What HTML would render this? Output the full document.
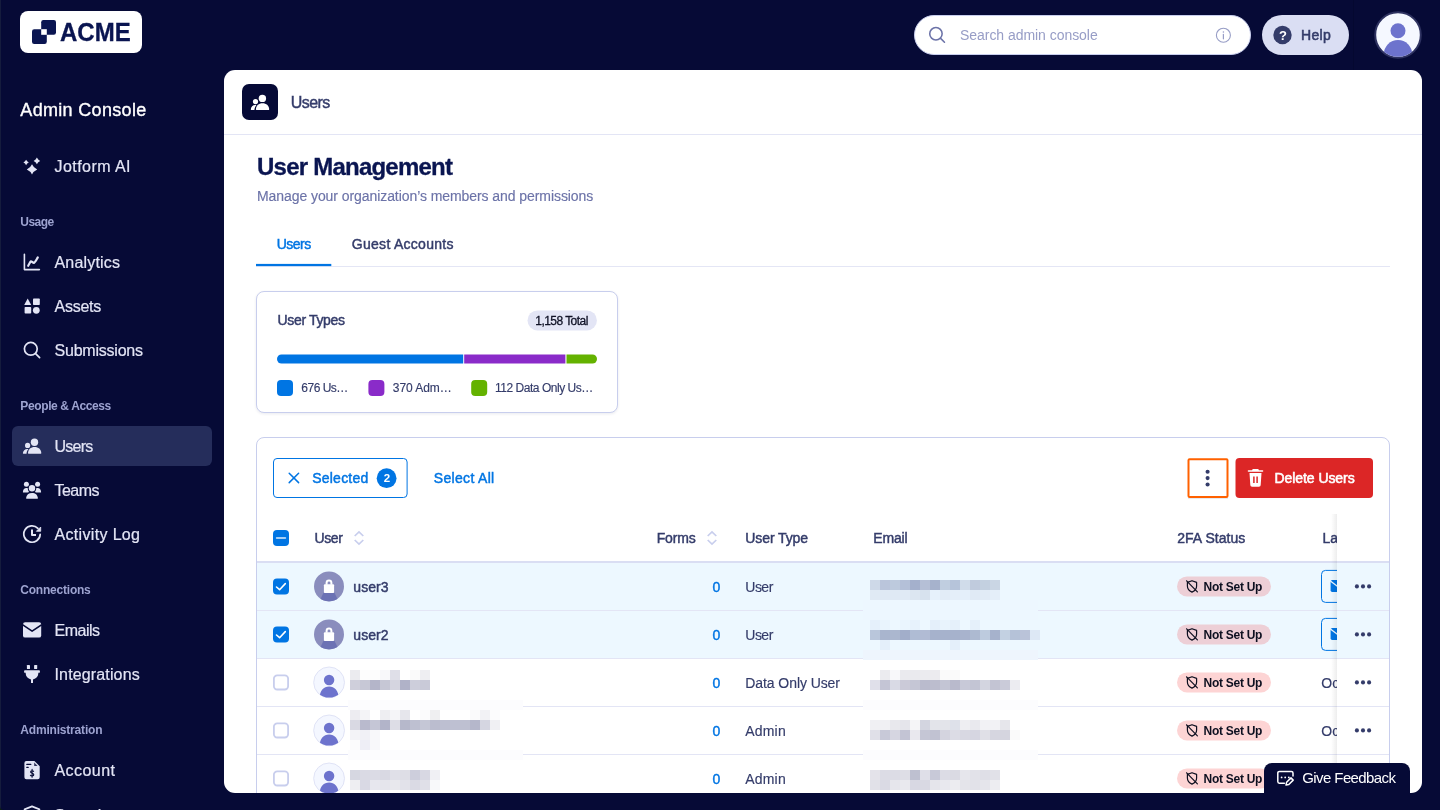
<!DOCTYPE html>
<html lang="en">
<head>
<meta charset="utf-8">
<title>Admin Console - Users</title>
<style>
*{box-sizing:border-box;margin:0;padding:0}
html,body{width:1440px;height:810px;overflow:hidden;background:#060A36}
body{font-family:"Liberation Sans",sans-serif;-webkit-font-smoothing:antialiased}
#app{position:relative;width:1440px;height:810px;overflow:hidden;background:#060A36}
#app div,#app span,#app svg,#app a,#app h1,#app h2,#app p,#app button,#app nav,#app header,#app main,#app aside,#app section,#app ul,#app li{position:absolute;display:block}
.t{white-space:nowrap;font-weight:400}
h1,h2,p{font-weight:400}
</style>
</head>
<body>
<div id="app">
<aside style="left:0;top:0;width:224px;height:810px">
<div style="left:20px;top:11px;width:122px;height:42px;background:#fff;border-radius:8px">
<svg style="left:12px;top:9px" width="24" height="24" viewBox="0 0 24 24"><rect x="9.2" y="0" width="14.8" height="14.8" rx="2.2" fill="#0A1551"/><rect x="0" y="9.2" width="14.8" height="14.8" rx="2.2" fill="#0A1551"/><rect x="9.2" y="9.2" width="5.6" height="5.6" fill="#fff"/></svg>
<span class="t" style="left:39.90px;top:10px;font-size:24px;line-height:24px;color:#0A1551;font-weight:700;letter-spacing:0.076px;-webkit-text-stroke:0.3px #0A1551;transform:scaleY(1.07);transform-origin:0 20px;">ACME</span>
</div>
<h2 class="t" style="left:20.30px;top:101px;font-size:18px;line-height:18px;color:#fff;letter-spacing:0.328px;-webkit-text-stroke:0.35px #fff;">Admin Console</h2>
<nav style="left:0;top:0;width:224px;height:810px">
<svg style="left:22px;top:156px;" width="20" height="20" viewBox="0 0 20 20"><path fill="#E3E5F5" d="M10,8.2 Q11.56,11.84 15.2,13.4 Q11.56,14.96 10,18.6 Q8.44,14.96 4.8,13.4 Q8.44,11.84 10,8.2Z M4.1,3.8 Q4.91,5.6899999999999995 6.8,6.5 Q4.91,7.3100000000000005 4.1,9.2 Q3.2899999999999996,7.3100000000000005 1.3999999999999995,6.5 Q3.2899999999999996,5.6899999999999995 4.1,3.8Z M14.9,1.6000000000000005 Q15.89,3.9100000000000006 18.2,4.9 Q15.89,5.890000000000001 14.9,8.2 Q13.91,5.890000000000001 11.600000000000001,4.9 Q13.91,3.9100000000000006 14.9,1.6000000000000005Z"/></svg>
<a class="t" style="left:54.50px;top:159px;font-size:16px;line-height:16px;color:#E3E5F5;letter-spacing:0.441px;-webkit-text-stroke:0.2px #E3E5F5;">Jotform AI</a>
<span class="t" style="left:20.30px;top:216px;font-size:12px;line-height:12px;color:#9DA3D0;font-weight:700;letter-spacing:-0.558px;">Usage</span>
<svg style="left:22px;top:252px;" width="20" height="20" viewBox="0 0 20 20"><path fill="none" stroke="#E3E5F5" stroke-width="1.6" stroke-linecap="round" stroke-linejoin="round" d="M2.4,2.2 V17.6 H17.4"/><path fill="none" stroke="#E3E5F5" stroke-width="2.2" stroke-linecap="round" stroke-linejoin="round" d="M6.2,13.8 L8.4,9.8 C9.2,8.6 10.4,10.6 12,10.8 C13,10.6 14.6,7.4 15.8,5.4"/></svg>
<a class="t" style="left:54.50px;top:255px;font-size:16px;line-height:16px;color:#E3E5F5;letter-spacing:0.184px;-webkit-text-stroke:0.2px #E3E5F5;">Analytics</a>
<svg style="left:22px;top:296px;" width="20" height="20" viewBox="0 0 20 20"><path fill="#E3E5F5" d="M5.7,2.6 L9.2,8.9 H2.2 Z"/><rect fill="#E3E5F5" x="11" y="2.4" width="6.8" height="6.6" rx="0.8"/><rect fill="#E3E5F5" x="2.6" y="11" width="6.6" height="6.6" rx="0.8"/><circle fill="#E3E5F5" cx="14.3" cy="14.3" r="3.4"/></svg>
<a class="t" style="left:54.50px;top:299px;font-size:16px;line-height:16px;color:#E3E5F5;letter-spacing:-0.263px;-webkit-text-stroke:0.2px #E3E5F5;">Assets</a>
<svg style="left:22px;top:340px;" width="20" height="20" viewBox="0 0 20 20"><circle fill="none" stroke="#E3E5F5" stroke-width="1.7" cx="8.8" cy="8.8" r="6.4"/><path fill="none" stroke="#E3E5F5" stroke-width="1.7" stroke-linecap="round" d="M13.6,13.6 L17.6,17.6"/></svg>
<a class="t" style="left:54.50px;top:343px;font-size:16px;line-height:16px;color:#E3E5F5;letter-spacing:-0.220px;-webkit-text-stroke:0.2px #E3E5F5;">Submissions</a>
<span class="t" style="left:20.30px;top:400px;font-size:12px;line-height:12px;color:#9DA3D0;font-weight:700;letter-spacing:-0.377px;">People &amp; Access</span>
<div style="left:12px;top:426px;width:200px;height:40px;border-radius:6px;background:#252D5B"></div>
<svg style="left:22px;top:436px;" width="20" height="20" viewBox="0 0 20 20"><circle fill="#E3E5F5" cx="12.5" cy="6.2" r="3.7"/><path fill="#E3E5F5" d="M6.5,17.7 Q6,17.7 6,17.1 C6.2,13.4 8.8,11.1 12.6,11.1 C16.4,11.1 19.1,13.4 19.3,17.1 Q19.3,17.7 18.8,17.7 Z"/><circle fill="#E3E5F5" cx="5.6" cy="9.4" r="2.6"/><path fill="#E3E5F5" d="M1.3,17.7 Q0.8,17.7 0.9,17.1 C1.2,14.6 2.8,12.9 5.2,12.9 C5.7,12.9 6.1,13 6.5,13.1 C5.3,14.3 4.7,15.8 4.5,17.7 Z"/></svg>
<a class="t" style="left:54.50px;top:439px;font-size:16px;line-height:16px;color:#E3E5F5;letter-spacing:-0.745px;-webkit-text-stroke:0.2px #E3E5F5;">Users</a>
<svg style="left:22px;top:480px;" width="20" height="20" viewBox="0 0 20 20"><circle fill="#E3E5F5" cx="10" cy="8.3" r="3.2"/><path fill="#E3E5F5" d="M4.6,18.7 Q4,18.7 4.1,18 C4.4,14.8 6.7,12.9 10,12.9 C13.3,12.9 15.6,14.8 15.9,18 Q16,18.7 15.4,18.7 Z"/><circle fill="#E3E5F5" cx="4.4" cy="4.2" r="2.5"/><circle fill="#E3E5F5" cx="15.6" cy="4.2" r="2.5"/><path fill="#E3E5F5" d="M1.4,12.6 Q0.8,12.6 0.9,12 C1.1,9.6 2.4,8 4.4,8 C4.9,8 5.4,8.1 5.8,8.3 C5.8,9.9 6.3,11 7.2,11.9 C6.6,12.1 6.1,12.3 5.7,12.6 Z"/><path fill="#E3E5F5" d="M18.6,12.6 Q19.2,12.6 19.1,12 C18.9,9.6 17.6,8 15.6,8 C15.1,8 14.6,8.1 14.2,8.3 C14.2,9.9 13.7,11 12.8,11.9 C13.4,12.1 13.9,12.3 14.3,12.6 Z"/></svg>
<a class="t" style="left:54.50px;top:483px;font-size:16px;line-height:16px;color:#E3E5F5;letter-spacing:-0.531px;-webkit-text-stroke:0.2px #E3E5F5;">Teams</a>
<svg style="left:22px;top:524px;" width="20" height="20" viewBox="0 0 20 20"><path fill="none" stroke="#E3E5F5" stroke-width="1.7" stroke-linecap="round" d="M18.2,10.4 A8.2,8.2 0 1 1 15.9,4.3"/><path fill="#E3E5F5" stroke="#E3E5F5" stroke-width="0.8" stroke-linejoin="round" d="M18.7,3 V7.3 H14.4 Z"/><path fill="none" stroke="#E3E5F5" stroke-width="2" stroke-linecap="butt" stroke-linejoin="round" d="M10,5.4 V11 H14"/></svg>
<a class="t" style="left:54.50px;top:527px;font-size:16px;line-height:16px;color:#E3E5F5;letter-spacing:0.335px;-webkit-text-stroke:0.2px #E3E5F5;">Activity Log</a>
<span class="t" style="left:20.30px;top:584px;font-size:12px;line-height:12px;color:#9DA3D0;font-weight:700;letter-spacing:-0.217px;">Connections</span>
<svg style="left:22px;top:620px;" width="20" height="20" viewBox="0 0 20 20"><rect fill="#E3E5F5" x="1" y="2.2" width="18.2" height="15.4" rx="2.2"/><path fill="none" stroke="#060A36" stroke-width="1.6" stroke-linejoin="round" d="M0.4,4.6 L10.1,11.2 L19.8,4.6"/></svg>
<a class="t" style="left:54.50px;top:623px;font-size:16px;line-height:16px;color:#E3E5F5;letter-spacing:-0.503px;-webkit-text-stroke:0.2px #E3E5F5;">Emails</a>
<svg style="left:22px;top:664px;" width="20" height="20" viewBox="0 0 20 20"><rect fill="#E3E5F5" x="4.9" y="0.9" width="3.1" height="4.2" rx="0.7"/><rect fill="#E3E5F5" x="12.1" y="0.9" width="3.1" height="4.2" rx="0.7"/><path fill="#E3E5F5" d="M3,6.2 H17 A0.9,0.9 0 0 1 17.9,7.1 V7.9 A0.9,0.9 0 0 1 17,8.8 H16.3 V9.6 C16.3,12.6 14.2,14.8 11,15.4 V19.1 H9 V15.4 C5.8,14.8 3.7,12.6 3.7,9.6 V8.8 H3 A0.9,0.9 0 0 1 2.1,7.9 V7.1 A0.9,0.9 0 0 1 3,6.2 Z"/></svg>
<a class="t" style="left:54.50px;top:667px;font-size:16px;line-height:16px;color:#E3E5F5;letter-spacing:0.145px;-webkit-text-stroke:0.2px #E3E5F5;">Integrations</a>
<span class="t" style="left:20.30px;top:724px;font-size:12px;line-height:12px;color:#9DA3D0;font-weight:700;letter-spacing:-0.190px;">Administration</span>
<svg style="left:22px;top:760px;" width="20" height="20" viewBox="0 0 20 20"><path fill="#E3E5F5" d="M4.4,0.9 H12.4 L17.7,6.2 V17.2 A2,2 0 0 1 15.7,19.2 H4.4 A2,2 0 0 1 2.4,17.2 V2.9 A2,2 0 0 1 4.4,0.9 Z"/><path fill="none" stroke="#060A36" stroke-width="1.2" stroke-linecap="round" d="M4.8,4.4 H8.8 M4.8,7.4 H6.2"/><path fill="#060A36" d="M12.2,2.6 L15.6,6 H12.2 Z" opacity="0.8"/><path fill="none" stroke="#060A36" stroke-width="1.1" stroke-linecap="round" d="M11.6,11.4 C11.2,10.4 8.6,10.4 8.6,12 C8.6,13.6 11.8,13 11.8,14.8 C11.8,16.4 8.8,16.4 8.4,15.2 M10.1,9.4 V17.2"/></svg>
<a class="t" style="left:54.50px;top:763px;font-size:16px;line-height:16px;color:#E3E5F5;letter-spacing:0.448px;-webkit-text-stroke:0.2px #E3E5F5;">Account</a>
<svg style="left:22px;top:805px;" width="20" height="20" viewBox="0 0 20 20"><path fill="none" stroke="#E3E5F5" stroke-width="1.7" stroke-linejoin="round" d="M10,1.4 L17.4,4.4 V9.6 C17.4,14 14.2,17.2 10,18.8 C5.8,17.2 2.6,14 2.6,9.6 V4.4 Z"/></svg>
<a class="t" style="left:54.50px;top:808px;font-size:16px;line-height:16px;color:#E3E5F5;letter-spacing:0.315px;-webkit-text-stroke:0.2px #E3E5F5;">Security</a>
</nav>
<div style="left:0;top:0;width:1px;height:810px;background:#151C3D"></div>
<svg style="left:0px;top:806px;" width="4" height="4" viewBox="0 0 4 4"><path d="M0,0 C0,2.6 1.4,4 4,4 H0 Z" fill="#0B1E14"/></svg>
</aside>
<header style="left:0;top:0;width:1440px;height:70px">
<div style="left:1353px;top:0;width:1px;height:70px;background:#040830"></div>
<div style="left:914px;top:15px;width:336.5px;height:40px;border-radius:20px;background:#fff;border:1px solid #C8CEED">
<svg style="left:12px;top:9px;" width="20" height="20" viewBox="0 0 20 20"><g transform="translate(0.4 0.2) scale(0.97 0.97)"><circle fill="none" stroke="#6C73A8" stroke-width="1.6" cx="8.8" cy="8.8" r="6.4"/><path fill="none" stroke="#6C73A8" stroke-width="1.6" stroke-linecap="round" d="M13.6,13.6 L17.6,17.6"/></g></svg>
<span class="t" style="left:45.00px;top:12px;font-size:14px;line-height:14px;color:#979DC6;letter-spacing:-0.044px;">Search admin console</span>
<svg style="left:299px;top:10px;" width="19" height="19" viewBox="0 0 19 19"><g transform="translate(0.4 0.2)"><circle cx="9" cy="9" r="7" fill="none" stroke="#979DC6" stroke-width="1.1"/><path d="M9,8.2 V12.6" stroke="#979DC6" stroke-width="1.2" stroke-linecap="round" fill="none"/><circle cx="9" cy="5.8" r="0.8" fill="#979DC6"/></g></svg>
</div>
<div style="left:1262px;top:15px;width:87px;height:40px;border-radius:20px;background:#DADEF3">
<svg style="left:11px;top:10px;" width="19" height="20" viewBox="0 0 19 20"><g transform="translate(0.3 0.8)"><circle cx="9.2" cy="9.2" r="9.2" fill="#343C6A"/></g></svg>
<span class="t" style="left:16.90px;top:14px;font-size:13px;line-height:13px;color:#fff;font-weight:700;">?</span>
<span class="t" style="left:39.00px;top:13px;font-size:14px;line-height:14px;color:#343C6A;letter-spacing:0.301px;-webkit-text-stroke:0.55px #343C6A;">Help</span>
</div>
<svg style="left:1374px;top:11px;" width="48" height="48" viewBox="0 0 48 48"><g transform="translate(0.2 0.2)"><clipPath id="avclip"><circle cx="23.8" cy="23.8" r="21.8"/></clipPath><circle cx="23.8" cy="23.8" r="22.8" fill="#F5F8FF" stroke="#2E3260" stroke-width="2"/><circle cx="23.8" cy="19.6" r="7.5" fill="#6D73CD"/><circle clip-path="url(#avclip)" cx="23.8" cy="43" r="14.2" fill="#6D73CD"/></g></svg>
</header>
<main style="left:224px;top:70px;width:1198px;height:723px;border-radius:11px;background:#fff;overflow:hidden">
<div style="left:-224px;top:-70px;width:1440px;height:810px">
<div style="left:242px;top:84px;width:36px;height:36px;border-radius:7px;background:#060A36"><svg style="left:7px;top:8px;" width="21" height="21" viewBox="0 0 21 21"><g transform="translate(0.9 0.2)"><circle fill="#fff" cx="12.5" cy="6.2" r="3.7"/><path fill="#fff" d="M6.5,17.7 Q6,17.7 6,17.1 C6.2,13.4 8.8,11.1 12.6,11.1 C16.4,11.1 19.1,13.4 19.3,17.1 Q19.3,17.7 18.8,17.7 Z"/><circle fill="#fff" cx="5.6" cy="9.4" r="2.6"/><path fill="#fff" d="M1.3,17.7 Q0.8,17.7 0.9,17.1 C1.2,14.6 2.8,12.9 5.2,12.9 C5.7,12.9 6.1,13 6.5,13.1 C5.3,14.3 4.7,15.8 4.5,17.7 Z"/></g></svg></div>
<span class="t" style="left:290.80px;top:95px;font-size:16px;line-height:16px;color:#343C6A;letter-spacing:-0.570px;-webkit-text-stroke:0.45px #343C6A;">Users</span>
<div style="left:224px;top:134px;width:1198px;height:1px;background:#E3E5F5"></div>
<h1 class="t" style="left:257.00px;top:155px;font-size:24px;line-height:24px;color:#0A1551;font-weight:700;letter-spacing:-0.767px;-webkit-text-stroke:0.3px #0A1551;">User Management</h1>
<p class="t" style="left:257.00px;top:189px;font-size:14px;line-height:14px;color:#6C73A8;letter-spacing:-0.072px;-webkit-text-stroke:0.15px #6C73A8;">Manage your organization’s members and permissions</p>
<div style="left:256px;top:266px;width:1134px;height:1px;background:#E4E6F5"></div>
<svg style="left:256px;top:263px;" width="76" height="4" viewBox="0 0 76 4"><rect x="0" y="0.9" width="75.3" height="2.2" fill="#0075E3"/></svg>
<span class="t" style="left:276.70px;top:237px;font-size:14px;line-height:14px;color:#0075E3;letter-spacing:-0.491px;-webkit-text-stroke:0.45px #0075E3;">Users</span>
<span class="t" style="left:351.80px;top:237px;font-size:14px;line-height:14px;color:#343C6A;letter-spacing:0.280px;-webkit-text-stroke:0.45px #343C6A;">Guest Accounts</span>
<section style="left:256px;top:291px;width:362px;height:122px;border:1px solid #C8CEED;border-radius:8px;background:#fff;box-shadow:0 1px 3px rgba(10,21,81,0.09)">
<div style="left:-257px;top:-292px;width:1440px;height:810px">
<span class="t" style="left:277.50px;top:313px;font-size:14px;line-height:14px;color:#343C6A;letter-spacing:-0.339px;-webkit-text-stroke:0.45px #343C6A;">User Types</span>
<svg style="left:527px;top:310px;" width="70" height="21" viewBox="0 0 70 21"><g transform="translate(0.5 0.4)"><rect x="0" y="0" width="69.4" height="20" rx="10" fill="#E3E5F5"/></g></svg>
<span class="t" style="left:535.30px;top:315px;font-size:12px;line-height:12px;color:#101226;letter-spacing:-0.550px;-webkit-text-stroke:0.3px #101226;">1,158 Total</span>
<svg style="left:277px;top:354px;" width="320" height="10" viewBox="0 0 320 10"><clipPath id="barclip"><rect x="0" y="0.5" width="320" height="9" rx="4.5"/></clipPath><g clip-path="url(#barclip)"><rect x="0" y="0" width="186.2" height="10" fill="#0075E3"/><rect x="187.2" y="0" width="101.2" height="10" fill="#8A2BC9"/><rect x="289.5" y="0" width="30.5" height="10" fill="#64B200"/></g></svg>
<svg style="left:277px;top:380px;" width="16" height="16" viewBox="0 0 16 16"><rect x="0" y="0" width="16" height="16" rx="4" fill="#0075E3"/></svg>
<span class="t" style="left:301.30px;top:382px;font-size:12px;line-height:12px;color:#343C6A;letter-spacing:-0.505px;-webkit-text-stroke:0.15px #343C6A;">676 Us…</span>
<svg style="left:368px;top:380px;" width="17" height="16" viewBox="0 0 17 16"><g transform="translate(0.4 0)"><rect x="0" y="0" width="16" height="16" rx="4" fill="#8A2BC9"/></g></svg>
<span class="t" style="left:392.80px;top:382px;font-size:12px;line-height:12px;color:#343C6A;letter-spacing:-0.068px;-webkit-text-stroke:0.15px #343C6A;">370 Adm…</span>
<svg style="left:471px;top:380px;" width="17" height="16" viewBox="0 0 17 16"><g transform="translate(0.2 0)"><rect x="0" y="0" width="16" height="16" rx="4" fill="#64B200"/></g></svg>
<span class="t" style="left:495.00px;top:382px;font-size:12px;line-height:12px;color:#343C6A;letter-spacing:-0.471px;-webkit-text-stroke:0.15px #343C6A;">112 Data Only Us…</span>
</div></section>
<section style="left:256px;top:437px;width:1134px;height:400px;border:1px solid #C8CEED;border-radius:8px;background:#fff;overflow:hidden">
<div style="left:-257px;top:-438px;width:1440px;height:810px">
<svg style="left:273px;top:458px;" width="135" height="40" viewBox="0 0 135 40"><rect x="0.5" y="0.5" width="133.6" height="39" rx="3.5" fill="#fff" stroke="#0075E3" stroke-width="1"/></svg>
<div style="left:274px;top:459px;width:134px;height:40px">
<svg style="left:14px;top:13px;" width="12" height="12" viewBox="0 0 12 12"><path fill="none" stroke="#0075E3" stroke-width="1.5" stroke-linecap="round" d="M1.2,1.2 L10.6,10.6 M10.6,1.2 L1.2,10.6"/></svg>
<span class="t" style="left:38.20px;top:12px;font-size:14px;line-height:14px;color:#0075E3;letter-spacing:0.231px;-webkit-text-stroke:0.45px #0075E3;">Selected</span>
<svg style="left:102px;top:9px;" width="21" height="21" viewBox="0 0 21 21"><g transform="translate(0.6 0.2)"><circle cx="10" cy="10" r="9.9" fill="#0075E3"/></g></svg>
<span class="t" style="left:109.70px;top:14px;font-size:11.5px;line-height:11.5px;color:#fff;font-weight:700;">2</span>
</div>
<span class="t" style="left:433.80px;top:471px;font-size:14px;line-height:14px;color:#0075E3;letter-spacing:0.312px;-webkit-text-stroke:0.45px #0075E3;">Select All</span>
<svg style="left:1186px;top:457px;" width="44" height="42" viewBox="0 0 44 42"><rect x="2" y="40.6" width="40" height="1.2" rx="0.6" fill="#0A1551" opacity="0.13"/><rect x="2.5" y="2.2" width="39" height="37.8" rx="1" fill="#fff" stroke="#FF6100" stroke-width="2"/><circle cx="21.6" cy="14.7" r="2.05" fill="#343C6A"/><circle cx="21.6" cy="21.1" r="2.05" fill="#343C6A"/><circle cx="21.6" cy="27.5" r="2.05" fill="#343C6A"/></svg>
<svg style="left:1235px;top:458px;" width="138" height="40" viewBox="0 0 138 40"><g transform="translate(0.5 0)"><rect x="0" y="0" width="137.5" height="40" rx="4" fill="#DC2626"/><g transform="translate(11 10)"><path fill="#fff" d="M6.2,1 H11.8 L12.4,2.2 H16 A0.8,0.8 0 0 1 16,3.8 H2 A0.8,0.8 0 0 1 2,2.2 H5.6 Z"/><path fill="#fff" d="M3,5 H15 L14.2,17 A1.8,1.8 0 0 1 12.4,18.8 H5.6 A1.8,1.8 0 0 1 3.8,17 Z"/><path stroke="#DC2626" stroke-width="1.5" d="M7.4,8.6 V15 M10.6,8.6 V15" fill="none"/></g></g></svg>
<span class="t" style="left:1274.50px;top:471px;font-size:14px;line-height:14px;color:#fff;letter-spacing:-0.066px;-webkit-text-stroke:0.55px #fff;">Delete Users</span>
<svg style="left:273px;top:530px;" width="16" height="16" viewBox="0 0 16 16"><rect x="0" y="0" width="16" height="16" rx="4" fill="#0075E3"/><path fill="none" stroke="#DDEBFB" stroke-width="1.6" stroke-linecap="round" d="M3.6,8 H12.4"/></svg>
<span class="t" style="left:314.50px;top:531px;font-size:14px;line-height:14px;color:#343C6A;letter-spacing:-0.421px;-webkit-text-stroke:0.45px #343C6A;">User</span>
<svg style="left:353px;top:530px;" width="12" height="16" viewBox="0 0 12 16"><path fill="none" stroke="#C8CEED" stroke-width="1.7" stroke-linejoin="miter" d="M1.7,6 L6,2 L10.3,6 M1.7,10 L6,14 L10.3,10"/></svg>
<span class="t" style="left:656.70px;top:531px;font-size:14px;line-height:14px;color:#343C6A;letter-spacing:-0.143px;-webkit-text-stroke:0.45px #343C6A;">Forms</span>
<svg style="left:706px;top:530px;" width="12" height="16" viewBox="0 0 12 16"><path fill="none" stroke="#C8CEED" stroke-width="1.7" stroke-linejoin="miter" d="M1.7,6 L6,2 L10.3,6 M1.7,10 L6,14 L10.3,10"/></svg>
<span class="t" style="left:745.30px;top:531px;font-size:14px;line-height:14px;color:#343C6A;letter-spacing:-0.106px;-webkit-text-stroke:0.45px #343C6A;">User Type</span>
<span class="t" style="left:873.30px;top:531px;font-size:14px;line-height:14px;color:#343C6A;letter-spacing:-0.204px;-webkit-text-stroke:0.45px #343C6A;">Email</span>
<span class="t" style="left:1177.20px;top:531px;font-size:14px;line-height:14px;color:#343C6A;letter-spacing:0.042px;-webkit-text-stroke:0.45px #343C6A;">2FA Status</span>
<span class="t" style="left:1322.50px;top:531px;font-size:14px;line-height:14px;color:#343C6A;-webkit-text-stroke:0.45px #343C6A;">Last Seen</span>
<div style="left:257px;top:563px;width:1133px;height:47px;background:#EDF8FF"></div><div style="left:257px;top:610px;width:1133px;height:1px;background:#E3E5F5"></div><div style="left:257px;top:611px;width:1133px;height:47px;background:#EDF8FF"></div><div style="left:257px;top:658px;width:1133px;height:1px;background:#E3E5F5"></div><div style="left:257px;top:659px;width:1133px;height:47px;background:#fff"></div><div style="left:257px;top:706px;width:1133px;height:1px;background:#E3E5F5"></div><div style="left:257px;top:707px;width:1133px;height:47px;background:#fff"></div><div style="left:257px;top:754px;width:1133px;height:1px;background:#E3E5F5"></div><div style="left:257px;top:755px;width:1133px;height:47px;background:#fff"></div><div style="left:257px;top:802px;width:1133px;height:1px;background:#E3E5F5"></div>
<div style="left:257px;top:561px;width:1133px;height:2px;background:#DADEF3"></div>
<div style="left:348px;top:700px;width:175px;height:10px;background:#FCFCFE"></div>
<div style="left:348px;top:750px;width:175px;height:10px;background:#FCFCFE"></div>
<div style="left:863px;top:600px;width:175px;height:20px;background:#EDF7FF"></div>
<div style="left:863px;top:650px;width:175px;height:10px;background:#EEF5FD"></div>
<div style="left:863px;top:700px;width:175px;height:10px;background:#FCFCFE"></div>
<div style="left:863px;top:750px;width:175px;height:10px;background:#FCFCFE"></div>
<svg style="left:273px;top:578px;" width="16" height="17" viewBox="0 0 16 17"><g transform="translate(0 0.4)"><rect x="0" y="0" width="16" height="16" rx="4" fill="#0075E3"/><path fill="none" stroke="#fff" stroke-width="1.6" stroke-linecap="round" stroke-linejoin="round" d="M3.5,8.6 L6.6,11.3 L12.3,5.2"/></g></svg>
<svg style="left:314px;top:571px;" width="30" height="31" viewBox="0 0 30 31"><g transform="translate(0 0.4)"><clipPath id="lk1"><circle cx="15" cy="15" r="15"/></clipPath><circle cx="15" cy="15" r="15" fill="#8A8DBD"/><path clip-path="url(#lk1)" fill="#6C72B4" d="M9.4,21.6 H20.6 L24.6,30 H5.4 Z"/><path fill="none" stroke="#fff" stroke-width="2" d="M12.6,13.4 V11.4 A2.4,2.4 0 0 1 17.4,11.4 V13.4"/><rect x="9.9" y="12.8" width="10.2" height="8.8" rx="1" fill="#fff"/></g></svg>
<span class="t" style="left:353.30px;top:580px;font-size:14px;line-height:14px;color:#343C6A;letter-spacing:0.042px;-webkit-text-stroke:0.45px #343C6A;">user3</span>
<span class="t" style="left:712.60px;top:580px;font-size:14px;line-height:14px;color:#0075E3;-webkit-text-stroke:0.4px #0075E3;">0</span>
<span class="t" style="left:745.30px;top:580px;font-size:14px;line-height:14px;color:#343C6A;letter-spacing:-0.521px;-webkit-text-stroke:0.15px #343C6A;">User</span>
<svg style="left:1177px;top:576px;" width="94" height="21" viewBox="0 0 94 21"><g transform="translate(0 0.4)"><rect x="0" y="0" width="94" height="20" rx="10" fill="#EDCFD6"/><path fill="none" stroke="#0E1020" stroke-width="1.2" stroke-linejoin="round" d="M15,4.3 L19.6,6 V9.6 C19.6,12.6 17.6,14.6 15,15.7 C12.4,14.6 10.4,12.6 10.4,9.6 V6 Z"/><path fill="none" stroke="#0E1020" stroke-width="1.2" stroke-linecap="round" d="M9.6,4.4 L20.4,15.4"/></g></svg><span class="t" style="left:1203.60px;top:581px;font-size:12px;line-height:12px;color:#0E1020;font-weight:700;letter-spacing:-0.283px;">Not Set Up</span>
<svg style="left:1321px;top:569px;" width="42" height="34" viewBox="0 0 42 34"><g transform="translate(0 0.9)"><rect x="0.5" y="0.5" width="41" height="32" rx="4" fill="none" stroke="#0075E3" stroke-width="1"/><rect x="9.6" y="10.2" width="16" height="11.8" rx="1.6" fill="#0075E3"/><path d="M9.4,11 L17.6,17.4 L25.8,11" stroke="#EDF8FF" stroke-width="1.3" fill="none"/></g></svg>
<svg style="left:273px;top:626px;" width="16" height="17" viewBox="0 0 16 17"><g transform="translate(0 0.4)"><rect x="0" y="0" width="16" height="16" rx="4" fill="#0075E3"/><path fill="none" stroke="#fff" stroke-width="1.6" stroke-linecap="round" stroke-linejoin="round" d="M3.5,8.6 L6.6,11.3 L12.3,5.2"/></g></svg>
<svg style="left:314px;top:619px;" width="30" height="31" viewBox="0 0 30 31"><g transform="translate(0 0.4)"><clipPath id="lk2"><circle cx="15" cy="15" r="15"/></clipPath><circle cx="15" cy="15" r="15" fill="#8A8DBD"/><path clip-path="url(#lk2)" fill="#6C72B4" d="M9.4,21.6 H20.6 L24.6,30 H5.4 Z"/><path fill="none" stroke="#fff" stroke-width="2" d="M12.6,13.4 V11.4 A2.4,2.4 0 0 1 17.4,11.4 V13.4"/><rect x="9.9" y="12.8" width="10.2" height="8.8" rx="1" fill="#fff"/></g></svg>
<span class="t" style="left:353.30px;top:628px;font-size:14px;line-height:14px;color:#343C6A;letter-spacing:0.042px;-webkit-text-stroke:0.45px #343C6A;">user2</span>
<span class="t" style="left:712.60px;top:628px;font-size:14px;line-height:14px;color:#0075E3;-webkit-text-stroke:0.4px #0075E3;">0</span>
<span class="t" style="left:745.30px;top:628px;font-size:14px;line-height:14px;color:#343C6A;letter-spacing:-0.521px;-webkit-text-stroke:0.15px #343C6A;">User</span>
<svg style="left:1177px;top:624px;" width="94" height="21" viewBox="0 0 94 21"><g transform="translate(0 0.4)"><rect x="0" y="0" width="94" height="20" rx="10" fill="#EDCFD6"/><path fill="none" stroke="#0E1020" stroke-width="1.2" stroke-linejoin="round" d="M15,4.3 L19.6,6 V9.6 C19.6,12.6 17.6,14.6 15,15.7 C12.4,14.6 10.4,12.6 10.4,9.6 V6 Z"/><path fill="none" stroke="#0E1020" stroke-width="1.2" stroke-linecap="round" d="M9.6,4.4 L20.4,15.4"/></g></svg><span class="t" style="left:1203.60px;top:629px;font-size:12px;line-height:12px;color:#0E1020;font-weight:700;letter-spacing:-0.283px;">Not Set Up</span>
<svg style="left:1321px;top:617px;" width="42" height="34" viewBox="0 0 42 34"><g transform="translate(0 0.9)"><rect x="0.5" y="0.5" width="41" height="32" rx="4" fill="none" stroke="#0075E3" stroke-width="1"/><rect x="9.6" y="10.2" width="16" height="11.8" rx="1.6" fill="#0075E3"/><path d="M9.4,11 L17.6,17.4 L25.8,11" stroke="#EDF8FF" stroke-width="1.3" fill="none"/></g></svg>
<svg style="left:273px;top:674px;" width="16" height="17" viewBox="0 0 16 17"><g transform="translate(0 0.4)"><rect x="0.9" y="0.9" width="14.2" height="14.2" rx="3.3" fill="#fff" stroke="#C8CEED" stroke-width="1.8"/></g></svg>
<svg style="left:313px;top:666px;" width="33" height="33" viewBox="0 0 33 33"><g transform="translate(0.1 0.4)"><clipPath id="us1"><circle cx="16" cy="16" r="15.2"/></clipPath><circle cx="16" cy="16" r="15.4" fill="#F4F7FF" stroke="#E0E3F6" stroke-width="1"/><circle cx="16" cy="13.6" r="5.2" fill="#6D73CD"/><path clip-path="url(#us1)" fill="#6D73CD" d="M6.4,32 C6.4,24.4 10.4,20 16,20 C21.6,20 25.6,24.4 25.6,32 Z"/></g></svg>
<span class="t" style="left:712.60px;top:676px;font-size:14px;line-height:14px;color:#0075E3;-webkit-text-stroke:0.4px #0075E3;">0</span>
<span class="t" style="left:745.30px;top:676px;font-size:14px;line-height:14px;color:#343C6A;letter-spacing:-0.077px;-webkit-text-stroke:0.15px #343C6A;">Data Only User</span>
<svg style="left:1177px;top:672px;" width="94" height="21" viewBox="0 0 94 21"><g transform="translate(0 0.4)"><rect x="0" y="0" width="94" height="20" rx="10" fill="#FDD4D4"/><path fill="none" stroke="#0E1020" stroke-width="1.2" stroke-linejoin="round" d="M15,4.3 L19.6,6 V9.6 C19.6,12.6 17.6,14.6 15,15.7 C12.4,14.6 10.4,12.6 10.4,9.6 V6 Z"/><path fill="none" stroke="#0E1020" stroke-width="1.2" stroke-linecap="round" d="M9.6,4.4 L20.4,15.4"/></g></svg><span class="t" style="left:1203.60px;top:677px;font-size:12px;line-height:12px;color:#0E1020;font-weight:700;letter-spacing:-0.283px;">Not Set Up</span>
<span class="t" style="left:1321.30px;top:676px;font-size:14px;line-height:14px;color:#343C6A;-webkit-text-stroke:0.15px #343C6A;">Oct</span>
<svg style="left:273px;top:722px;" width="16" height="17" viewBox="0 0 16 17"><g transform="translate(0 0.4)"><rect x="0.9" y="0.9" width="14.2" height="14.2" rx="3.3" fill="#fff" stroke="#C8CEED" stroke-width="1.8"/></g></svg>
<svg style="left:313px;top:714px;" width="33" height="33" viewBox="0 0 33 33"><g transform="translate(0.1 0.4)"><clipPath id="us2"><circle cx="16" cy="16" r="15.2"/></clipPath><circle cx="16" cy="16" r="15.4" fill="#F4F7FF" stroke="#E0E3F6" stroke-width="1"/><circle cx="16" cy="13.6" r="5.2" fill="#6D73CD"/><path clip-path="url(#us2)" fill="#6D73CD" d="M6.4,32 C6.4,24.4 10.4,20 16,20 C21.6,20 25.6,24.4 25.6,32 Z"/></g></svg>
<span class="t" style="left:712.60px;top:724px;font-size:14px;line-height:14px;color:#0075E3;-webkit-text-stroke:0.4px #0075E3;">0</span>
<span class="t" style="left:745.30px;top:724px;font-size:14px;line-height:14px;color:#343C6A;letter-spacing:0.178px;-webkit-text-stroke:0.15px #343C6A;">Admin</span>
<svg style="left:1177px;top:720px;" width="94" height="21" viewBox="0 0 94 21"><g transform="translate(0 0.4)"><rect x="0" y="0" width="94" height="20" rx="10" fill="#FDD4D4"/><path fill="none" stroke="#0E1020" stroke-width="1.2" stroke-linejoin="round" d="M15,4.3 L19.6,6 V9.6 C19.6,12.6 17.6,14.6 15,15.7 C12.4,14.6 10.4,12.6 10.4,9.6 V6 Z"/><path fill="none" stroke="#0E1020" stroke-width="1.2" stroke-linecap="round" d="M9.6,4.4 L20.4,15.4"/></g></svg><span class="t" style="left:1203.60px;top:725px;font-size:12px;line-height:12px;color:#0E1020;font-weight:700;letter-spacing:-0.283px;">Not Set Up</span>
<span class="t" style="left:1321.30px;top:724px;font-size:14px;line-height:14px;color:#343C6A;-webkit-text-stroke:0.15px #343C6A;">Oct</span>
<svg style="left:273px;top:770px;" width="16" height="17" viewBox="0 0 16 17"><g transform="translate(0 0.4)"><rect x="0.9" y="0.9" width="14.2" height="14.2" rx="3.3" fill="#fff" stroke="#C8CEED" stroke-width="1.8"/></g></svg>
<svg style="left:313px;top:762px;" width="33" height="33" viewBox="0 0 33 33"><g transform="translate(0.1 0.4)"><clipPath id="us3"><circle cx="16" cy="16" r="15.2"/></clipPath><circle cx="16" cy="16" r="15.4" fill="#F4F7FF" stroke="#E0E3F6" stroke-width="1"/><circle cx="16" cy="13.6" r="5.2" fill="#6D73CD"/><path clip-path="url(#us3)" fill="#6D73CD" d="M6.4,32 C6.4,24.4 10.4,20 16,20 C21.6,20 25.6,24.4 25.6,32 Z"/></g></svg>
<span class="t" style="left:712.60px;top:772px;font-size:14px;line-height:14px;color:#0075E3;-webkit-text-stroke:0.4px #0075E3;">0</span>
<span class="t" style="left:745.30px;top:772px;font-size:14px;line-height:14px;color:#343C6A;letter-spacing:0.178px;-webkit-text-stroke:0.15px #343C6A;">Admin</span>
<svg style="left:1177px;top:768px;" width="94" height="21" viewBox="0 0 94 21"><g transform="translate(0 0.4)"><rect x="0" y="0" width="94" height="20" rx="10" fill="#FDD4D4"/><path fill="none" stroke="#0E1020" stroke-width="1.2" stroke-linejoin="round" d="M15,4.3 L19.6,6 V9.6 C19.6,12.6 17.6,14.6 15,15.7 C12.4,14.6 10.4,12.6 10.4,9.6 V6 Z"/><path fill="none" stroke="#0E1020" stroke-width="1.2" stroke-linecap="round" d="M9.6,4.4 L20.4,15.4"/></g></svg><span class="t" style="left:1203.60px;top:773px;font-size:12px;line-height:12px;color:#0E1020;font-weight:700;letter-spacing:-0.283px;">Not Set Up</span>
<span class="t" style="left:1321.30px;top:772px;font-size:14px;line-height:14px;color:#343C6A;-webkit-text-stroke:0.15px #343C6A;">Oct</span>
<svg style="left:350px;top:670px;shape-rendering:crispEdges" width="80" height="20" viewBox="0 0 80 20"><rect x="0" y="0" width="10" height="10" fill="#EBEBEF"/><rect x="10" y="0" width="10" height="10" fill="#FDFDFD"/><rect x="20" y="0" width="10" height="10" fill="#FDFDFD"/><rect x="30" y="0" width="10" height="10" fill="#F8F8FA"/><rect x="40" y="0" width="10" height="10" fill="#DFDFE8"/><rect x="50" y="0" width="10" height="10" fill="#FFFFFF"/><rect x="60" y="0" width="10" height="10" fill="#FAFAFA"/><rect x="70" y="0" width="10" height="10" fill="#EEEEF2"/><rect x="0" y="10" width="10" height="10" fill="#CFCFDB"/><rect x="10" y="10" width="10" height="10" fill="#C7C8D6"/><rect x="20" y="10" width="10" height="10" fill="#B4B5C9"/><rect x="30" y="10" width="10" height="10" fill="#C6C7D5"/><rect x="40" y="10" width="10" height="10" fill="#D5D5E0"/><rect x="50" y="10" width="10" height="10" fill="#B0B2C8"/><rect x="60" y="10" width="10" height="10" fill="#CDCEDB"/><rect x="70" y="10" width="10" height="10" fill="#C9CAD8"/></svg>
<svg style="left:350px;top:710px;shape-rendering:crispEdges" width="150" height="40" viewBox="0 0 150 40"><rect x="0" y="0" width="10" height="10" fill="#EDECF1"/><rect x="10" y="0" width="10" height="10" fill="#F4F4F7"/><rect x="20" y="0" width="10" height="10" fill="#FFFFFF"/><rect x="30" y="0" width="10" height="10" fill="#EEEEF2"/><rect x="40" y="0" width="10" height="10" fill="#F5F5F8"/><rect x="50" y="0" width="10" height="10" fill="#E6E6EC"/><rect x="60" y="0" width="10" height="10" fill="#FFFFFF"/><rect x="70" y="0" width="10" height="10" fill="#FBFBFC"/><rect x="80" y="0" width="10" height="10" fill="#EFEFF1"/><rect x="90" y="0" width="10" height="10" fill="#FFFFFF"/><rect x="100" y="0" width="10" height="10" fill="#FFFFFF"/><rect x="110" y="0" width="10" height="10" fill="#FFFFFF"/><rect x="120" y="0" width="10" height="10" fill="#FAFAFB"/><rect x="130" y="0" width="10" height="10" fill="#F2F2F5"/><rect x="140" y="0" width="10" height="10" fill="#FCFCFD"/><rect x="0" y="10" width="10" height="10" fill="#D9D9E3"/><rect x="10" y="10" width="10" height="10" fill="#B9BACD"/><rect x="20" y="10" width="10" height="10" fill="#C5C6D6"/><rect x="30" y="10" width="10" height="10" fill="#B2B4C9"/><rect x="40" y="10" width="10" height="10" fill="#DDDDE6"/><rect x="50" y="10" width="10" height="10" fill="#B6B8CB"/><rect x="60" y="10" width="10" height="10" fill="#BEC0D1"/><rect x="70" y="10" width="10" height="10" fill="#C5C7D6"/><rect x="80" y="10" width="10" height="10" fill="#BBBDCF"/><rect x="90" y="10" width="10" height="10" fill="#BDBFD1"/><rect x="100" y="10" width="10" height="10" fill="#BEC0D2"/><rect x="110" y="10" width="10" height="10" fill="#BEC0D1"/><rect x="120" y="10" width="10" height="10" fill="#B5B7CB"/><rect x="130" y="10" width="10" height="10" fill="#D5D6E1"/><rect x="140" y="10" width="10" height="10" fill="#F0F0F3"/><rect x="0" y="20" width="10" height="10" fill="#F3F3F7"/><rect x="10" y="20" width="10" height="10" fill="#F1F1F6"/><rect x="20" y="20" width="10" height="10" fill="#F8F8FA"/><rect x="0" y="30" width="10" height="10" fill="#FBFBFC"/><rect x="10" y="30" width="10" height="10" fill="#EEEEF6"/><rect x="20" y="30" width="10" height="10" fill="#F8F8FA"/></svg>
<svg style="left:350px;top:770px;shape-rendering:crispEdges" width="90" height="20" viewBox="0 0 90 20"><rect x="0" y="0" width="10" height="10" fill="#D6D7E1"/><rect x="10" y="0" width="10" height="10" fill="#DADAE4"/><rect x="20" y="0" width="10" height="10" fill="#DBDBE5"/><rect x="30" y="0" width="10" height="10" fill="#D9D9E3"/><rect x="40" y="0" width="10" height="10" fill="#E0E0E8"/><rect x="50" y="0" width="10" height="10" fill="#DEDEE6"/><rect x="60" y="0" width="10" height="10" fill="#CDCEDC"/><rect x="70" y="0" width="10" height="10" fill="#D8D8E3"/><rect x="80" y="0" width="10" height="10" fill="#F0F0F4"/><rect x="0" y="10" width="10" height="10" fill="#EEEEF2"/><rect x="10" y="10" width="10" height="10" fill="#D9D9E4"/><rect x="20" y="10" width="10" height="10" fill="#E7E7EE"/><rect x="30" y="10" width="10" height="10" fill="#E5E5EC"/><rect x="40" y="10" width="10" height="10" fill="#E8E8ED"/><rect x="50" y="10" width="10" height="10" fill="#E2E2EA"/><rect x="60" y="10" width="10" height="10" fill="#DADAE4"/><rect x="70" y="10" width="10" height="10" fill="#E0E0E8"/><rect x="80" y="10" width="10" height="10" fill="#F8F9FA"/></svg>
<svg style="left:870px;top:580px;shape-rendering:crispEdges" width="130" height="20" viewBox="0 0 130 20"><rect x="0" y="0" width="10" height="10" fill="#CED9E8"/><rect x="10" y="0" width="10" height="10" fill="#BAC5DB"/><rect x="20" y="0" width="10" height="10" fill="#BDCADD"/><rect x="30" y="0" width="10" height="10" fill="#B4C0D8"/><rect x="40" y="0" width="10" height="10" fill="#A4B0CC"/><rect x="50" y="0" width="10" height="10" fill="#B5BFD6"/><rect x="60" y="0" width="10" height="10" fill="#A6B2CC"/><rect x="70" y="0" width="10" height="10" fill="#C0CEE0"/><rect x="80" y="0" width="10" height="10" fill="#B6C4DA"/><rect x="90" y="0" width="10" height="10" fill="#D0DCEA"/><rect x="100" y="0" width="10" height="10" fill="#C0CBDD"/><rect x="110" y="0" width="10" height="10" fill="#C3D0E0"/><rect x="120" y="0" width="10" height="10" fill="#CAD6E4"/><rect x="0" y="10" width="10" height="10" fill="#E0EAF4"/><rect x="10" y="10" width="10" height="10" fill="#DFE9F4"/><rect x="20" y="10" width="10" height="10" fill="#DFE9F4"/><rect x="30" y="10" width="10" height="10" fill="#E0EAF5"/><rect x="40" y="10" width="10" height="10" fill="#DCE6F1"/><rect x="50" y="10" width="10" height="10" fill="#D7E2EE"/><rect x="60" y="10" width="10" height="10" fill="#E6F1FB"/><rect x="70" y="10" width="10" height="10" fill="#E2ECF7"/><rect x="80" y="10" width="10" height="10" fill="#E4EEF9"/><rect x="90" y="10" width="10" height="10" fill="#E4EFFA"/><rect x="100" y="10" width="10" height="10" fill="#E0EAF5"/><rect x="110" y="10" width="10" height="10" fill="#E1EBF6"/><rect x="120" y="10" width="10" height="10" fill="#E4EEF9"/></svg>
<svg style="left:870px;top:620px;shape-rendering:crispEdges" width="170" height="30" viewBox="0 0 170 30"><rect x="0" y="0" width="10" height="10" fill="#E5F0FB"/><rect x="10" y="0" width="10" height="10" fill="#E9F4FD"/><rect x="20" y="0" width="10" height="10" fill="#EDF8FF"/><rect x="30" y="0" width="10" height="10" fill="#EAF5FE"/><rect x="40" y="0" width="10" height="10" fill="#E7F2FC"/><rect x="50" y="0" width="10" height="10" fill="#EDF8FF"/><rect x="60" y="0" width="10" height="10" fill="#E4EFFA"/><rect x="70" y="0" width="10" height="10" fill="#E8F3FC"/><rect x="80" y="0" width="10" height="10" fill="#E5F0FA"/><rect x="90" y="0" width="10" height="10" fill="#EDF8FF"/><rect x="100" y="0" width="10" height="10" fill="#E5F0FA"/><rect x="0" y="10" width="10" height="10" fill="#B9C6DB"/><rect x="10" y="10" width="10" height="10" fill="#A9B5CE"/><rect x="20" y="10" width="10" height="10" fill="#ABB7CF"/><rect x="30" y="10" width="10" height="10" fill="#A2AECA"/><rect x="40" y="10" width="10" height="10" fill="#AFBCD4"/><rect x="50" y="10" width="10" height="10" fill="#B1BBD4"/><rect x="60" y="10" width="10" height="10" fill="#A6B2CC"/><rect x="70" y="10" width="10" height="10" fill="#A6B2CC"/><rect x="80" y="10" width="10" height="10" fill="#A6B2CC"/><rect x="90" y="10" width="10" height="10" fill="#A8B3CD"/><rect x="100" y="10" width="10" height="10" fill="#ADBAD1"/><rect x="110" y="10" width="10" height="10" fill="#BDCBDE"/><rect x="120" y="10" width="10" height="10" fill="#A6B2CC"/><rect x="130" y="10" width="10" height="10" fill="#C3D1E2"/><rect x="140" y="10" width="10" height="10" fill="#B5C2D8"/><rect x="150" y="10" width="10" height="10" fill="#BAC3D9"/><rect x="160" y="10" width="10" height="10" fill="#DDE8F5"/><rect x="10" y="20" width="10" height="10" fill="#E4EFFA"/><rect x="80" y="20" width="10" height="10" fill="#E4EFFA"/></svg>
<svg style="left:870px;top:670px;shape-rendering:crispEdges" width="150" height="20" viewBox="0 0 150 20"><rect x="0" y="0" width="10" height="10" fill="#FFFFFF"/><rect x="10" y="0" width="10" height="10" fill="#EBEBEF"/><rect x="20" y="0" width="10" height="10" fill="#F8F8FA"/><rect x="30" y="0" width="10" height="10" fill="#EAEAEE"/><rect x="40" y="0" width="10" height="10" fill="#EAEAEE"/><rect x="50" y="0" width="10" height="10" fill="#EBEBEF"/><rect x="60" y="0" width="10" height="10" fill="#ECEBEF"/><rect x="70" y="0" width="10" height="10" fill="#FAFAFA"/><rect x="80" y="0" width="10" height="10" fill="#FAFAFA"/><rect x="0" y="10" width="10" height="10" fill="#E0E0EA"/><rect x="10" y="10" width="10" height="10" fill="#C4C5D5"/><rect x="20" y="10" width="10" height="10" fill="#D9DAE5"/><rect x="30" y="10" width="10" height="10" fill="#CBCAD8"/><rect x="40" y="10" width="10" height="10" fill="#C5C6D5"/><rect x="50" y="10" width="10" height="10" fill="#BABBCD"/><rect x="60" y="10" width="10" height="10" fill="#BCBDCE"/><rect x="70" y="10" width="10" height="10" fill="#C3C5D4"/><rect x="80" y="10" width="10" height="10" fill="#B9BACC"/><rect x="90" y="10" width="10" height="10" fill="#C8C9D8"/><rect x="100" y="10" width="10" height="10" fill="#C3C5D4"/><rect x="110" y="10" width="10" height="10" fill="#D3D5E0"/><rect x="120" y="10" width="10" height="10" fill="#C3C4D3"/><rect x="130" y="10" width="10" height="10" fill="#CACBD9"/><rect x="140" y="10" width="10" height="10" fill="#ECECF1"/></svg>
<svg style="left:870px;top:720px;shape-rendering:crispEdges" width="150" height="20" viewBox="0 0 150 20"><rect x="0" y="0" width="10" height="10" fill="#F0F0F3"/><rect x="10" y="0" width="10" height="10" fill="#F0F0F3"/><rect x="20" y="0" width="10" height="10" fill="#E8E8ED"/><rect x="30" y="0" width="10" height="10" fill="#E5E5EB"/><rect x="40" y="0" width="10" height="10" fill="#F5F5F7"/><rect x="50" y="0" width="10" height="10" fill="#D3D5E0"/><rect x="60" y="0" width="10" height="10" fill="#E3E4EA"/><rect x="70" y="0" width="10" height="10" fill="#E3E4EA"/><rect x="80" y="0" width="10" height="10" fill="#DEE1EA"/><rect x="90" y="0" width="10" height="10" fill="#EEEEF2"/><rect x="100" y="0" width="10" height="10" fill="#E9E9EE"/><rect x="110" y="0" width="10" height="10" fill="#F2F2F5"/><rect x="120" y="0" width="10" height="10" fill="#F2F2F5"/><rect x="130" y="0" width="10" height="10" fill="#E6E6EB"/><rect x="0" y="10" width="10" height="10" fill="#E0E0E8"/><rect x="10" y="10" width="10" height="10" fill="#C8C9D8"/><rect x="20" y="10" width="10" height="10" fill="#D6D6E1"/><rect x="30" y="10" width="10" height="10" fill="#C3C4D4"/><rect x="40" y="10" width="10" height="10" fill="#E9E8EE"/><rect x="50" y="10" width="10" height="10" fill="#C5C6D5"/><rect x="60" y="10" width="10" height="10" fill="#C1C2D2"/><rect x="70" y="10" width="10" height="10" fill="#D4D4DF"/><rect x="80" y="10" width="10" height="10" fill="#DCDCE5"/><rect x="90" y="10" width="10" height="10" fill="#D8D8E2"/><rect x="100" y="10" width="10" height="10" fill="#D6D6E1"/><rect x="110" y="10" width="10" height="10" fill="#E0E0E7"/><rect x="120" y="10" width="10" height="10" fill="#D6D6E0"/><rect x="130" y="10" width="10" height="10" fill="#D5D5DF"/><rect x="140" y="10" width="10" height="10" fill="#FAFAFA"/></svg>
<svg style="left:870px;top:770px;shape-rendering:crispEdges" width="130" height="20" viewBox="0 0 130 20"><rect x="0" y="0" width="10" height="10" fill="#E4E3EA"/><rect x="10" y="0" width="10" height="10" fill="#DCDCE5"/><rect x="20" y="0" width="10" height="10" fill="#DCDCE5"/><rect x="30" y="0" width="10" height="10" fill="#DEDEE6"/><rect x="40" y="0" width="10" height="10" fill="#BEC0D0"/><rect x="50" y="0" width="10" height="10" fill="#DFDFE8"/><rect x="60" y="0" width="10" height="10" fill="#C8C9D8"/><rect x="70" y="0" width="10" height="10" fill="#DCDCE5"/><rect x="80" y="0" width="10" height="10" fill="#DADAE3"/><rect x="90" y="0" width="10" height="10" fill="#E6E6EC"/><rect x="100" y="0" width="10" height="10" fill="#E2E2E9"/><rect x="110" y="0" width="10" height="10" fill="#DFDFE7"/><rect x="120" y="0" width="10" height="10" fill="#E1E1E8"/><rect x="0" y="10" width="10" height="10" fill="#E1E1E8"/><rect x="10" y="10" width="10" height="10" fill="#DADAE4"/><rect x="20" y="10" width="10" height="10" fill="#E6E6EC"/><rect x="30" y="10" width="10" height="10" fill="#E9E9EE"/><rect x="40" y="10" width="10" height="10" fill="#D8D8E3"/><rect x="50" y="10" width="10" height="10" fill="#D9D9E3"/><rect x="60" y="10" width="10" height="10" fill="#E5E5EB"/><rect x="70" y="10" width="10" height="10" fill="#E8E8EE"/><rect x="80" y="10" width="10" height="10" fill="#ECECF0"/><rect x="90" y="10" width="10" height="10" fill="#E4E4EA"/><rect x="100" y="10" width="10" height="10" fill="#E2E2E9"/><rect x="110" y="10" width="10" height="10" fill="#E5E5EB"/><rect x="120" y="10" width="10" height="10" fill="#EDEDF1"/></svg>
<div style="left:1331px;top:514px;width:6px;height:300px;background:linear-gradient(to right, rgba(0,0,0,0), rgba(0,0,0,0.07))"></div>
<div style="left:1337px;top:514px;width:53px;height:47px;background:#fff"></div>
<div style="left:1337px;top:563px;width:53px;height:47px;background:#EDF8FF"></div><div style="left:1337px;top:610px;width:53px;height:1px;background:#E3E5F5"></div><div style="left:1337px;top:611px;width:53px;height:47px;background:#EDF8FF"></div><div style="left:1337px;top:658px;width:53px;height:1px;background:#E3E5F5"></div><div style="left:1337px;top:659px;width:53px;height:47px;background:#fff"></div><div style="left:1337px;top:706px;width:53px;height:1px;background:#E3E5F5"></div><div style="left:1337px;top:707px;width:53px;height:47px;background:#fff"></div><div style="left:1337px;top:754px;width:53px;height:1px;background:#E3E5F5"></div><div style="left:1337px;top:755px;width:53px;height:47px;background:#fff"></div><div style="left:1337px;top:802px;width:53px;height:1px;background:#E3E5F5"></div>
<div style="left:1337px;top:561px;width:53px;height:2px;background:#DADEF3"></div>
<svg style="left:1353px;top:582px;" width="20" height="9" viewBox="0 0 20 9"><g transform="translate(0 0.4)"><circle cx="3.9" cy="4" r="2.05" fill="#343C6A"/><circle cx="10" cy="4" r="2.05" fill="#343C6A"/><circle cx="16.1" cy="4" r="2.05" fill="#343C6A"/></g></svg>
<svg style="left:1353px;top:630px;" width="20" height="9" viewBox="0 0 20 9"><g transform="translate(0 0.4)"><circle cx="3.9" cy="4" r="2.05" fill="#343C6A"/><circle cx="10" cy="4" r="2.05" fill="#343C6A"/><circle cx="16.1" cy="4" r="2.05" fill="#343C6A"/></g></svg>
<svg style="left:1353px;top:678px;" width="20" height="9" viewBox="0 0 20 9"><g transform="translate(0 0.4)"><circle cx="3.9" cy="4" r="2.05" fill="#343C6A"/><circle cx="10" cy="4" r="2.05" fill="#343C6A"/><circle cx="16.1" cy="4" r="2.05" fill="#343C6A"/></g></svg>
<svg style="left:1353px;top:726px;" width="20" height="9" viewBox="0 0 20 9"><g transform="translate(0 0.4)"><circle cx="3.9" cy="4" r="2.05" fill="#343C6A"/><circle cx="10" cy="4" r="2.05" fill="#343C6A"/><circle cx="16.1" cy="4" r="2.05" fill="#343C6A"/></g></svg>
<svg style="left:1353px;top:774px;" width="20" height="9" viewBox="0 0 20 9"><g transform="translate(0 0.4)"><circle cx="3.9" cy="4" r="2.05" fill="#343C6A"/><circle cx="10" cy="4" r="2.05" fill="#343C6A"/><circle cx="16.1" cy="4" r="2.05" fill="#343C6A"/></g></svg>
</div></section>
</div></main>
<div style="left:1264px;top:763px;width:146px;height:47px;border-radius:8px 8px 0 0;background:#060A36">
<svg style="left:12px;top:6px" width="20" height="20" viewBox="0 0 20 20"><path fill="none" stroke="#fff" stroke-width="1.5" stroke-linejoin="round" stroke-linecap="round" d="M8.4,14.2 H3.4 A1.6,1.6 0 0 1 1.8,12.6 V4 A1.6,1.6 0 0 1 3.4,2.4 H15.4 A1.6,1.6 0 0 1 17,4 V7"/><circle cx="5.6" cy="8.4" r="0.9" fill="#fff"/><circle cx="9.2" cy="8.4" r="0.9" fill="#fff"/><circle cx="12.8" cy="8.4" r="0.9" fill="#fff"/><path fill="none" stroke="#fff" stroke-width="1.5" stroke-linejoin="round" transform="translate(-1.6 -1.5)" d="M11.6,17.6 L12.2,14.8 L16.6,10.4 L18.8,12.6 L14.4,17 Z"/></svg>
<span class="t" style="left:38.30px;top:7px;font-size:15px;line-height:15px;color:#fff;letter-spacing:-0.599px;">Give Feedback</span>
</div>
</div>
</body>
</html>
